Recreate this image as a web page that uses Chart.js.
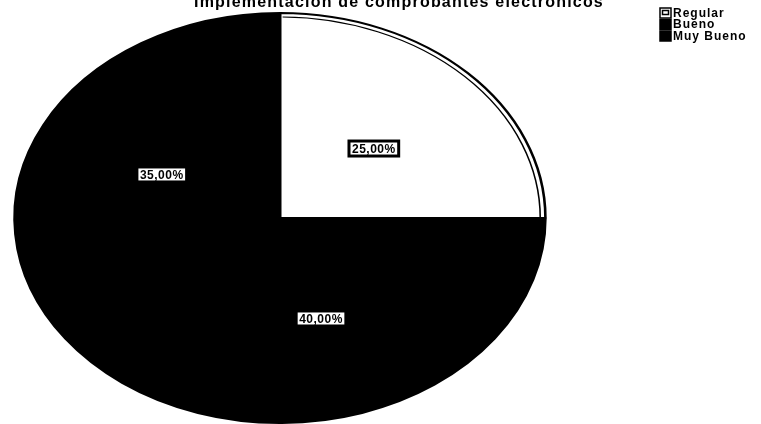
<!DOCTYPE html>
<html lang="es">
<head>
  <meta charset="UTF-8">
  <title>Implementación de comprobantes electrónicos</title>
  <script src="https://cdn.jsdelivr.net/npm/chart.js"></script>
  <style>
    body { margin: 0; background: #fff; }
    .chart-box { position: relative; width: 761px; height: 424px; }
  </style>
</head>
<body>
  <div class="chart-box">
    <canvas id="pieChart" width="761" height="424"></canvas>
  </div>

  <script>
    // Survey data
    const chartTitle = 'Implementación de comprobantes electrónicos';
    const categories = ['Regular', 'Bueno', 'Muy Bueno'];
    const percentages = [25, 40, 35];
    const sliceColors = ['#ffffff', '#000000', '#000000'];

    // Pie is drawn as a circle and stretched sideways into an ellipse
    const stretchX = 268 / 207;

    function formatPct(v) {
      return v.toFixed(2).replace('.', ',') + '%';
    }

    const ellipsePlugin = {
      id: 'ellipse',
      beforeDatasetsDraw(chart) {
        const { ctx, chartArea } = chart;
        const cx = (chartArea.left + chartArea.right) / 2;
        const cy = (chartArea.top + chartArea.bottom) / 2;
        ctx.save();
        ctx.translate(cx, cy);
        ctx.scale(stretchX, 1);
        ctx.translate(-cx, -cy);
      },
      afterDatasetsDraw(chart) {
        const { ctx, chartArea } = chart;
        const arcs = chart.getDatasetMeta(0).data;

        // second rim line on the white slice (still inside the stretch)
        arcs.forEach((arc, i) => {
          if (sliceColors[i] !== '#ffffff') return;
          ctx.beginPath();
          ctx.arc(arc.x, arc.y, arc.outerRadius - 4, arc.startAngle + 0.01, arc.endAngle);
          ctx.lineWidth = 1.2;
          ctx.strokeStyle = '#000';
          ctx.stroke();
        });
        ctx.restore();

        const cx = (chartArea.left + chartArea.right) / 2;

        // value labels in white boxes
        ctx.save();
        ctx.font = 'bold 12px Arial';
        ctx.letterSpacing = '0.5px';
        ctx.textAlign = 'center';
        ctx.textBaseline = 'middle';
        arcs.forEach((arc, i) => {
          const p = arc.tooltipPosition();
          const x = cx + (p.x - cx) * stretchX;
          const y = p.y + 3;
          const text = formatPct(percentages[i]);
          const w = ctx.measureText(text).width + 6;
          const h = 15;
          ctx.fillStyle = '#fff';
          ctx.fillRect(x - w / 2, y - h / 2, w, h);
          ctx.lineWidth = 3;
          ctx.strokeStyle = '#000';
          ctx.strokeRect(x - w / 2, y - h / 2, w, h);
          ctx.fillStyle = '#000';
          ctx.fillText(text, x, y + 1);
        });
        ctx.restore();
      },
      afterDraw(chart) {
        const { ctx } = chart;
        ctx.save();
        // title, partly clipped by the top edge
        ctx.font = 'bold 16px Arial';
        ctx.letterSpacing = '1.2px';
        ctx.textAlign = 'center';
        ctx.textBaseline = 'alphabetic';
        ctx.fillStyle = '#000';
        ctx.fillText(chartTitle, 399, 7);

        // legend
        ctx.font = 'bold 12px Arial';
        ctx.letterSpacing = '1px';
        ctx.textAlign = 'left';
        ctx.textBaseline = 'middle';
        categories.forEach((name, i) => {
          const y = 13 + i * 11.5;
          ctx.fillStyle = sliceColors[i];
          ctx.fillRect(660, y - 5, 11, 10);
          ctx.strokeStyle = '#000';
          ctx.lineWidth = 1.5;
          ctx.strokeRect(660, y - 5, 11, 10);
          if (sliceColors[i] === '#ffffff') {
            ctx.strokeRect(662.5, y - 2.5, 6, 4);
          }
          ctx.fillStyle = '#000';
          ctx.fillText(name, 673, y + 0.5);
        });
        ctx.restore();
      }
    };

    new Chart(document.getElementById('pieChart'), {
      type: 'pie',
      data: {
        labels: categories,
        datasets: [{
          data: percentages,
          backgroundColor: sliceColors,
          borderColor: '#000',
          borderWidth: 2
        }]
      },
      options: {
        responsive: false,
        animation: false,
        events: [],
        layout: { padding: { left: 73, right: 274, top: 12, bottom: -2 } },
        plugins: {
          legend: { display: false },
          tooltip: { enabled: false },
          title: { display: false }
        }
      },
      plugins: [ellipsePlugin]
    });
  </script>
</body>
</html>
